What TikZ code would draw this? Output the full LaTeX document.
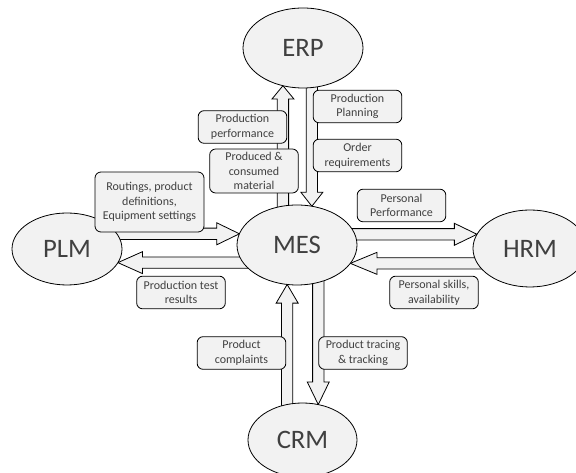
\documentclass[tikz,border=0pt]{standalone}
\usepackage{fontspec}
\setmainfont{Carlito}
\usepackage{xcolor}
\usepackage{tikz}
\usetikzlibrary{calc, shapes.geometric, backgrounds}

\definecolor{panel}{HTML}{F2F2F2}
\definecolor{ink}{HTML}{404040}

\tikzset{
  sys/.style={draw, ellipse, fill=panel, text=ink, inner sep=0pt, outer sep=0pt,
    line width=0.6pt, font=\fontsize{20}{24}\selectfont},
  info/.style={draw, rounded corners=4.5pt, fill=panel, text=ink, align=center,
    inner sep=1pt, line width=0.6pt, minimum width=66.5pt, minimum height=24.5pt,
    font=\fontsize{9}{11}\selectfont},
  tiplen/.store in=\tiplen, tiplen=17pt,
  flow/.style={draw, fill=panel, line width=0.6pt, line join=miter, to path={
    ($(\tikztostart)!4.25pt!90:(\tikztotarget)$)
    -- ($(\tikztotarget)!\tiplen!(\tikztostart)!4.25pt!90:(\tikztotarget)$)
    -- ($(\tikztotarget)!\tiplen!(\tikztostart)!8.25pt!90:(\tikztotarget)$)
    -- (\tikztotarget)
    -- ($(\tikztotarget)!\tiplen!(\tikztostart)!8.25pt!-90:(\tikztotarget)$)
    -- ($(\tikztotarget)!\tiplen!(\tikztostart)!4.25pt!-90:(\tikztotarget)$)
    -- ($(\tikztostart)!4.25pt!-90:(\tikztotarget)$) -- cycle}}
}

\begin{document}
\begin{tikzpicture}[x=0.75pt, y=-0.75pt]
  \useasboundingbox (0,0) rectangle (576,473);
  % systems
  \node (mes) [sys, minimum width=90pt, minimum height=60pt] at (297,245) {MES};
  \node (erp) [sys, minimum width=90pt, minimum height=60pt] at (303,48) {ERP};
  \node (plm) [sys, minimum width=82.5pt, minimum height=54pt] at (67,249) {PLM};
  \node (hrm) [sys, minimum width=85.5pt, minimum height=57.75pt] at (530,248.5) {HRM};
  \node (crm) [sys, minimum width=81.75pt, minimum height=55.5pt] at (302.5,440) {CRM};
  % exchanged data
  \node (perf) [info] at (242.5,127) {Production\\performance};
  \node (made) [info, minimum height=33pt] at (254,171) {Produced \&\\consumed\\material};
  \node (plan) [info] at (357.5,106.5) {Production\\Planning};
  \node (order) [info] at (357.5,155.5) {Order\\requirements};
  \node (route) [info, minimum width=81.75pt, minimum height=45pt] at (149.5,202)
    {Routings, product\\definitions,\\Equipment settings};
  \node (test) [info] at (181,292.5) {Production test\\results};
  \node (pperf) [info] at (401.5,205.5) {Personal\\Performance};
  \node (skill) [info] at (434,292.5) {Personal skills,\\availability};
  \node (compl) [info] at (241.5,353) {Product\\complaints};
  \node (trace) [info] at (363,353) {Product tracing\\\& tracking};
  % flows
  \begin{scope}[on background layer]
    \draw [flow, tiplen=10pt] (erp.242 |- mes.center) to (erp.242);
    \draw [flow, tiplen=10.5pt] (mes.69 |- erp.center) to (mes.69);
    \draw [flow] (mes.169 -| plm.center) to (mes.169);
    \draw [flow, tiplen=18.5pt] (plm.345 -| mes.center) to (plm.345);
    \draw [flow] (hrm.165 -| mes.center) to (hrm.165);
    \draw [flow, tiplen=20pt] (mes.341 -| hrm.center) to (mes.341);
    \draw [flow, tiplen=14pt] (mes.256 |- crm.center) to (mes.256);
    \draw [flow] (crm.66 |- mes.center) to (crm.66);
  \end{scope}
\end{tikzpicture}
\end{document}
